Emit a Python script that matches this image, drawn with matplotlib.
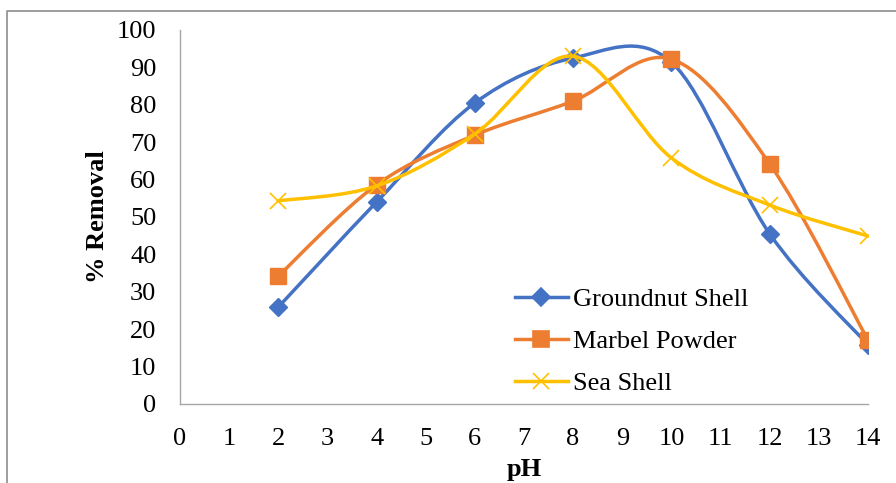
import matplotlib.pyplot as plt
from matplotlib.path import Path
from matplotlib.patches import PathPatch
from matplotlib.lines import Line2D

pH = [2, 4, 6, 8, 10, 12, 14]
groundnut = [25.9, 54, 80.5, 92.5, 91.4, 45.5, 15.8]
marbel = [34.2, 58.6, 71.9, 81, 92.2, 64.2, 17.1]
sea = [54.3, 58.3, 72.2, 93, 65.8, 53.2, 44.9]

plt.rcParams['font.family'] = ['Liberation Serif', 'DejaVu Serif']
plt.rcParams['font.size'] = 19


def smooth_path(x, y):
    # excel-like smoothed line: bezier segments through the data points
    pts = list(zip(x, y))
    n = len(pts)
    verts = [pts[0]]
    codes = [Path.MOVETO]
    for i in range(n - 1):
        p0 = pts[i - 1] if i > 0 else pts[i]
        p1 = pts[i]
        p2 = pts[i + 1]
        p3 = pts[i + 2] if i + 2 < n else pts[i + 1]
        c1 = (p1[0] + (p2[0] - p0[0]) / 6, p1[1] + (p2[1] - p0[1]) / 6)
        c2 = (p2[0] - (p3[0] - p1[0]) / 6, p2[1] - (p3[1] - p1[1]) / 6)
        verts += [c1, c2, p2]
        codes += [Path.CURVE4] * 3
    return Path(verts, codes)


fig = plt.figure(figsize=(8.96, 4.83), dpi=100)
ax = fig.add_axes([0.2009, 0.1636, 0.7678, 0.7743])

series = [
    (groundnut, '#4472C4', 'D', 9, 'Groundnut Shell'),
    (marbel, '#ED7D31', 's', 12, 'Marbel Powder'),
    (sea, '#FFC000', 'x', 12, 'Sea Shell'),
]
for k, (vals, col, mk, ms, lab) in enumerate(series):
    ax.add_patch(PathPatch(smooth_path(pH, vals), fill=False, edgecolor=col,
                           lw=2.5, zorder=2 + k, capstyle='round'))
    ax.plot(pH, vals, linestyle='none', marker=mk, ms=ms, color=col,
            mec=col, mew=1.2 if mk == 'x' else 1, zorder=2.5 + k)

handles = [Line2D([], [], color=c, lw=2.5, marker=m, ms=s, mew=1.2, label=l)
           for (_, c, m, s, l) in series]
ax.legend(handles=handles, loc='lower left', bbox_to_anchor=(0.487, 0.024),
          frameon=False, handlelength=2.0, handletextpad=0.2,
          labelspacing=0.7, borderpad=0, borderaxespad=0, fontsize=19)

ax.set_xlim(0, 14)
ax.set_ylim(0, 100)
ax.set_xticks(range(0, 15))
ax.set_yticks(range(0, 101, 10))
ax.tick_params(length=0, labelsize=19)
ax.tick_params(axis='y', pad=17)
ax.tick_params(axis='x', pad=17)
for s in ['top', 'right']:
    ax.spines[s].set_visible(False)
for s in ['left', 'bottom']:
    ax.spines[s].set_color('#A6A6A6')
    ax.spines[s].set_linewidth(1)

ax.set_xlabel('pH', fontweight='bold', fontsize=19, labelpad=6)
ax.set_ylabel('% Removal', fontweight='bold', fontsize=19, labelpad=6)

# chart frame (left and top edges visible)
fig.add_artist(Line2D([0.0078, 0.0078, 1.0], [0.0, 0.977, 0.977],
                      transform=fig.transFigure, color='#8C8C8C', lw=1.2))

fig.savefig('out.png', dpi=100)
